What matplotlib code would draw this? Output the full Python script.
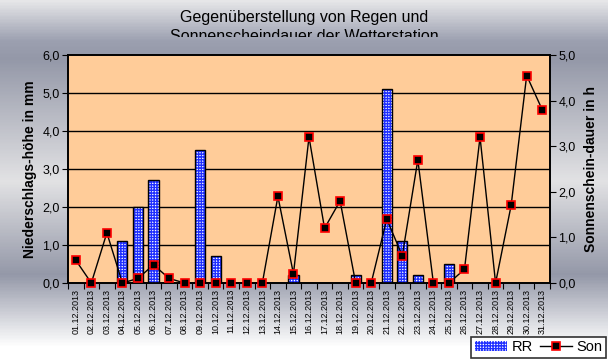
import numpy as np
import matplotlib.pyplot as plt
from matplotlib.colors import LinearSegmentedColormap
from matplotlib.transforms import Bbox, TransformedBbox
from matplotlib.patches import Patch
from matplotlib.lines import Line2D

plt.rcParams['font.family'] = ['Liberation Sans', 'DejaVu Sans']
plt.rcParams['hatch.linewidth'] = 1.0

# -----------------------------
# data
# -----------------------------
days = ["%02d.12.2013" % d for d in range(1, 32)]
rr = [0, 0, 0, 1.1, 2.0, 2.7, 0, 0, 3.5, 0.7, 0, 0, 0, 0, 0.2, 0,
      0, 0, 0.2, 0, 5.1, 1.1, 0.2, 0, 0.5, 0, 0, 0, 0, 0, 0]
son = [0.5, 0.0, 1.1, 0.0, 0.1, 0.4, 0.1, 0.0, 0.0, 0.0, 0.0, 0.0, 0.0, 1.9, 0.2, 3.2,
       1.2, 1.8, 0.0, 0.0, 1.4, 0.6, 2.7, 0.0, 0.0, 0.3, 3.2, 0.0, 1.7, 4.55, 3.8]
left_ticks = [0, 1, 2, 3, 4, 5, 6]
right_ticks = [0, 1, 2, 3, 4, 5]

fig = plt.figure(figsize=(6.08, 3.62), dpi=100)

# -----------------------------
# background gradient
# -----------------------------
bg = fig.add_axes([0, 0, 1, 1], zorder=-10)
stops = [(0.0, '#e6e6e8'), (0.11, '#9ca0b0'), (0.16, '#9498a8'),
         (0.50, '#e2e2e4'), (0.76, '#9498a8'), (0.96, '#ffffff'), (1.0, '#ffffff')]
cmap = LinearSegmentedColormap.from_list('bg', stops)
grad = np.linspace(0, 1, 362).reshape(-1, 1)
bg.imshow(grad, aspect='auto', cmap=cmap, extent=[0, 1, 0, 1], origin='upper')
bg.axis('off')

# -----------------------------
# main axes
# -----------------------------
ax = fig.add_axes([68/608, 79/362, 482/608, 228/362])
ax.set_facecolor('#ffcc99')
x = np.arange(len(days))

ax.bar(x, rr, width=0.65, color='white', edgecolor='#2030ff', hatch='++++++',
       linewidth=0, zorder=3)
ax.bar(x, rr, width=0.65, fill=False, edgecolor='black', linewidth=1.0, zorder=4)

ax.set_xlim(-0.5, len(days) - 0.5)
ax.set_ylim(0, 6)
ax.set_yticks(left_ticks)
ax.set_yticklabels([("%.1f" % v).replace('.', ',') for v in left_ticks], fontsize=9)
for v in left_ticks[1:-1]:
    ax.axhline(v, color='black', lw=1.0, zorder=1)

ax.set_xticks(np.arange(len(days) + 1) - 0.5)
ax.set_xticklabels([])
ax.set_xticks(x, minor=True)
ax.set_xticklabels(days, minor=True, rotation=90, fontsize=6.5)
ax.tick_params(axis='x', which='minor', length=0, pad=4)
ax.tick_params(axis='x', which='major', length=4, direction='out')
ax.tick_params(axis='y', length=4, direction='out', pad=2)
ax.set_ylabel("Niederschlags-höhe in mm", fontsize=10, fontweight='bold', labelpad=4)

ax2 = ax.twinx()
ax2.plot(x, son, color='black', lw=1.0, marker='s', markersize=6,
         markerfacecolor='black', markeredgecolor='red', markeredgewidth=1.2,
         zorder=5, clip_on=False)
ax2.set_ylim(0, 5)
ax2.set_yticks(right_ticks)
ax2.set_yticklabels([("%.1f" % v).replace('.', ',') for v in right_ticks], fontsize=9)
ax2.tick_params(axis='y', length=4, direction='out', pad=2)
ax2.set_ylabel("Sonnenschein-dauer in h", fontsize=10, fontweight='bold', labelpad=6)

for a in (ax, ax2):
    for s in a.spines.values():
        s.set_linewidth(1.2)

# -----------------------------
# title (second line cut off like in the original)
# -----------------------------
t = fig.text(0.5, 1 - 10/362, "Gegenüberstellung von Regen und\nSonnenscheindauer der Wetterstation",
             ha='center', va='top', fontsize=11.5, linespacing=1.3)
t.set_clip_box(TransformedBbox(Bbox([[0, 1 - 37/362], [1, 1]]), fig.transFigure))
t.set_clip_on(True)

# -----------------------------
# legend
# -----------------------------
handles = [Patch(facecolor='white', edgecolor='#2030ff', hatch='++++++', linewidth=0),
           Line2D([], [], color='black', lw=1.0, marker='s', markersize=6,
                  markerfacecolor='black', markeredgecolor='red', markeredgewidth=1.2)]
leg = fig.legend(handles, ['RR', 'Son'], loc='lower right',
                 bbox_to_anchor=(606/608, 4/362), ncol=2, fontsize=10.5,
                 frameon=True, fancybox=False, borderpad=0.25, handlelength=2.2,
                 handletextpad=0.3, columnspacing=0.5, borderaxespad=0)
leg.get_frame().set_edgecolor('black')
leg.get_frame().set_linewidth(1.2)

fig.savefig('out.png', dpi=100)
